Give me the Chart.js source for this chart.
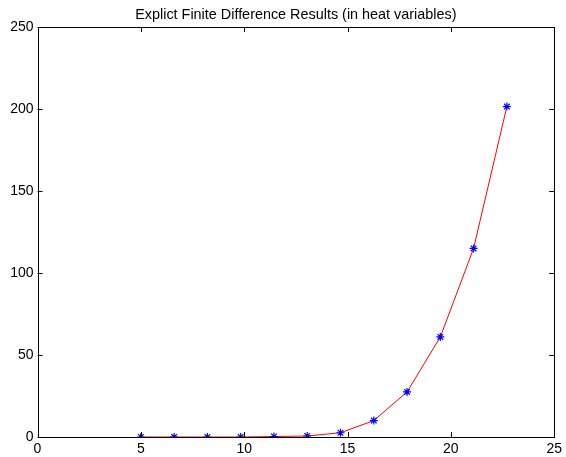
<!DOCTYPE html>
<html>
<head>
<meta charset="utf-8">
<title>Explicit finite difference</title>
<script src="https://cdn.jsdelivr.net/npm/chart.js@4/dist/chart.umd.min.js"></script>
<style>
  html, body { margin: 0; padding: 0; background: #fff; }
  canvas { display: block; }
</style>
</head>
<body>
<canvas id="fdChart" width="566" height="457"></canvas>
<script>
// grid points (heat variable x) and computed values
const xValues = [5, 6.61, 8.22, 9.83, 11.44, 13.05, 14.66, 16.27, 17.88, 19.49, 21.1, 22.71];
const yValues = [0, 0, 0, 0, 0.3, 0.6, 2.6, 10, 27.5, 61, 115, 201.5];
const xTicks = [0, 5, 10, 15, 20, 25];
const yTicks = [0, 50, 100, 150, 200, 250];
const titleText = 'Explict Finite Difference Results (in heat variables)';

const points = xValues.map((x, i) => ({ x: x, y: yValues[i] }));

// box around the axes with inward tick marks, title centred over the axes
const boxTicks = {
    id: 'boxTicks',
    afterDraw(chart) {
        const ctx = chart.ctx;
        const a = chart.chartArea;
        const xs = chart.scales.x;
        const ys = chart.scales.y;
        const len = 5;
        ctx.save();
        ctx.strokeStyle = '#000';
        ctx.lineWidth = 1;
        ctx.strokeRect(Math.round(a.left) + 0.5, Math.round(a.top) + 0.5,
            Math.round(a.right - a.left) - 1, Math.round(a.bottom - a.top));
        ctx.beginPath();
        xTicks.forEach(v => {
            const px = Math.round(xs.getPixelForValue(v)) + 0.5;
            ctx.moveTo(px, a.bottom);
            ctx.lineTo(px, a.bottom - len);
            ctx.moveTo(px, a.top);
            ctx.lineTo(px, a.top + len);
        });
        yTicks.forEach(v => {
            const py = Math.round(ys.getPixelForValue(v)) + 0.5;
            ctx.moveTo(a.left, py);
            ctx.lineTo(a.left + len, py);
            ctx.moveTo(a.right, py);
            ctx.lineTo(a.right - len, py);
        });
        ctx.stroke();

        ctx.fillStyle = '#000';
        ctx.font = '14.4px "Liberation Sans", Arial, sans-serif';
        ctx.textAlign = 'center';
        ctx.textBaseline = 'alphabetic';
        ctx.fillText(titleText, (a.left + a.right) / 2, 19);
        ctx.restore();
    }
};

Chart.defaults.font.family = '"Liberation Sans", Arial, sans-serif';
Chart.defaults.font.size = 14;
Chart.defaults.color = '#000';

new Chart(document.getElementById('fdChart').getContext('2d'), {
    type: 'line',
    data: {
        datasets: [{
            data: points,
            borderColor: '#ff0000',
            borderWidth: 1,
            tension: 0,
            pointStyle: 'star',
            pointRadius: 4,
            pointBorderColor: '#0000ff',
            pointBackgroundColor: '#0000ff',
            pointBorderWidth: 1.2
        }]
    },
    options: {
        responsive: false,
        animation: false,
        devicePixelRatio: 1,
        layout: { padding: { left: 0, right: 8, top: 27, bottom: 0 } },
        plugins: {
            legend: { display: false },
            tooltip: { enabled: false },
            title: { display: false }
        },
        scales: {
            x: {
                type: 'linear',
                min: 0,
                max: 25,
                afterFit: s => { s.height = 20; },
                afterBuildTicks: s => { s.ticks = xTicks.map(v => ({ value: v })); },
                ticks: { padding: 4, maxRotation: 0 },
                grid: { display: false, drawTicks: false },
                border: { display: false }
            },
            y: {
                type: 'linear',
                min: 0,
                max: 250,
                afterFit: s => { s.width = 37.5; },
                afterBuildTicks: s => { s.ticks = yTicks.map(v => ({ value: v })); },
                ticks: { padding: 4 },
                grid: { display: false, drawTicks: false },
                border: { display: false }
            }
        }
    },
    plugins: [boxTicks]
});
</script>
</body>
</html>
